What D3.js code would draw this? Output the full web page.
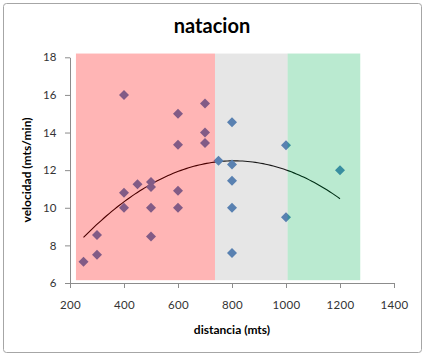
<!DOCTYPE html>
<html>
<head>
<meta charset="utf-8">
<script src="https://cdn.jsdelivr.net/npm/d3@7"></script>
<style>
  html, body { margin: 0; padding: 0; background: #fff; }
  svg { display: block; }
</style>
</head>
<body>
<script>
// ---- data ----
const distancia = [250, 300, 300, 400, 400, 400, 450, 500, 500, 500, 500, 600, 600, 600, 600, 700, 700, 700, 750, 800, 800, 800, 800, 800, 1000, 1000, 1200];
const velocidad = [7.13, 7.5, 8.55, 16, 10.8, 10, 11.25, 11.37, 11.1, 10, 8.47, 15, 13.35, 10.9, 10, 15.55, 14, 13.45, 12.5, 14.55, 12.3, 11.43, 10, 7.6, 13.33, 9.5, 12];
const xTicks = [200, 400, 600, 800, 1000, 1200, 1400];
const yTicks = [6, 8, 10, 12, 14, 16, 18];
const bandStart = [222, 737, 1006];
const bandEnd = [737, 1006, 1275];
const bandColor = ["rgba(255,0,0,0.29)", "rgba(128,128,128,0.2)", "rgba(0,176,80,0.27)"];
const bandTop = 18.2, bandBottom = 6.15;
const title = "natacion";
const xLabel = "distancia (mts)";
const yLabel = "velocidad (mts/min)";

const W = 425, H = 356;
const svg = d3.select("body").append("svg").attr("width", W).attr("height", H);
const font = "Lato, 'Liberation Sans', sans-serif";

// border
svg.append("rect").attr("x", 3.5).attr("y", 3.5).attr("width", 418).attr("height", 349)
  .attr("rx", 3).attr("fill", "#fff").attr("stroke", "#a6a6a6").attr("stroke-width", 1);

const x = d3.scaleLinear().domain([200, 1400]).range([70, 394]);
const y = d3.scaleLinear().domain([6, 18]).range([283, 57.3]);

// quadratic least-squares trend
function quadFit(xs, ys) {
  let S = [[0,0,0],[0,0,0],[0,0,0]], T = [0,0,0];
  for (let i = 0; i < xs.length; i++) {
    const p = [1, xs[i], xs[i]*xs[i]];
    for (let r = 0; r < 3; r++) { T[r] += p[r]*ys[i]; for (let c = 0; c < 3; c++) S[r][c] += p[r]*p[c]; }
  }
  const A = S.map((row, i) => row.concat([T[i]]));
  for (let i = 0; i < 3; i++) {
    for (let k = i+1; k < 3; k++) {
      const f = A[k][i]/A[i][i];
      for (let j = i; j < 4; j++) A[k][j] -= f*A[i][j];
    }
  }
  const b = [0,0,0];
  for (let i = 2; i >= 0; i--) {
    let s = A[i][3];
    for (let j = i+1; j < 3; j++) s -= A[i][j]*b[j];
    b[i] = s/A[i][i];
  }
  return b;
}
const coef = quadFit(distancia, velocidad);
const xmin = d3.min(distancia), xmax = d3.max(distancia);
const trendPts = d3.range(0, 101).map(i => {
  const xv = xmin + (xmax - xmin) * i / 100;
  return [xv, coef[0] + coef[1]*xv + coef[2]*xv*xv];
});

// axes
const xAxis = d3.axisBottom(x).tickValues(xTicks).tickFormat(d3.format("d")).tickSize(5).tickSizeOuter(0);
const yAxis = d3.axisLeft(y).tickValues(yTicks).tickFormat(d3.format("d")).tickSize(5).tickSizeOuter(0);
const gx = svg.append("g").attr("transform", "translate(0,283)").call(xAxis);
const gy = svg.append("g").attr("transform", "translate(70,0)").call(yAxis);
[gx, gy].forEach(g => {
  g.select(".domain").attr("stroke", "#8c8c8c");
  g.selectAll(".tick line").attr("stroke", "#8c8c8c");
  g.selectAll(".tick text").attr("fill", "#333").attr("font-family", font).attr("font-size", 11.5)
    .attr("letter-spacing", "0.3px");
});
gx.selectAll(".tick text").attr("dy", "1.55em");
gy.selectAll(".tick text").attr("dx", "-0.45em");

// trend line
svg.append("path").datum(trendPts)
  .attr("d", d3.line().x(d => x(d[0])).y(d => y(d[1])))
  .attr("fill", "none").attr("stroke", "#000").attr("stroke-width", 1.1);

// markers
const pts = distancia.map((d, i) => [d, velocidad[i]]);
svg.append("g").selectAll("path").data(pts).join("path")
  .attr("d", d3.symbol(d3.symbolSquare, 50))
  .attr("transform", d => `translate(${x(d[0])},${y(d[1])}) rotate(45)`)
  .attr("fill", "#4f81bd");

// bands overlay
svg.append("g").selectAll("rect").data(bandStart).join("rect")
  .attr("x", (d) => x(d))
  .attr("width", (d, i) => x(bandEnd[i]) - x(d))
  .attr("y", y(bandTop))
  .attr("height", y(bandBottom) - y(bandTop))
  .attr("fill", (d, i) => bandColor[i]);

// titles
svg.append("text").attr("x", 212).attr("y", 33).attr("text-anchor", "middle")
  .attr("font-family", font).attr("font-weight", "bold").attr("font-size", 20).attr("fill", "#000")
  .text(title);
svg.append("text").attr("x", 232).attr("y", 334).attr("text-anchor", "middle")
  .attr("font-family", font).attr("font-weight", "bold").attr("font-size", 12).attr("fill", "#000")
  .text(xLabel);
svg.append("text").attr("transform", "translate(31,170) rotate(-90)").attr("text-anchor", "middle")
  .attr("font-family", font).attr("font-weight", "bold").attr("font-size", 12).attr("fill", "#000")
  .text(yLabel);
</script>
</body>
</html>
